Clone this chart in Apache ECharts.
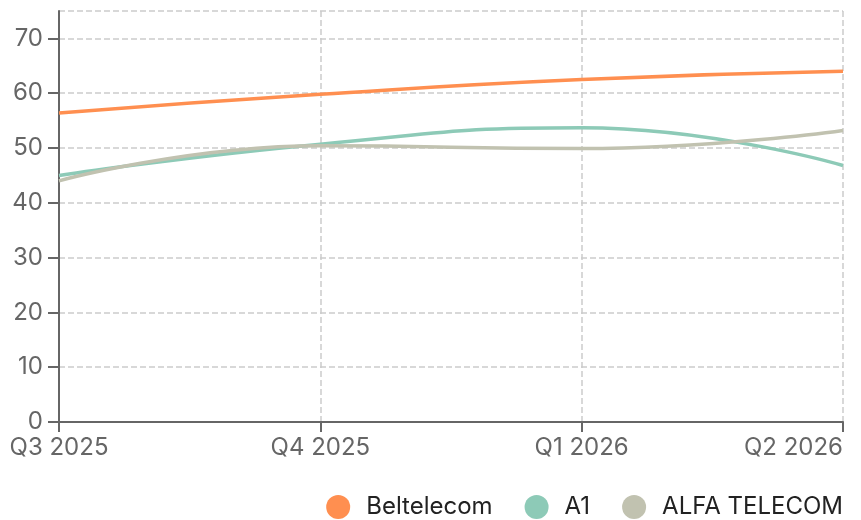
<!DOCTYPE html>
<html><head><meta charset="utf-8">
<script src="https://cdn.jsdelivr.net/npm/echarts@6/dist/echarts.min.js"></script>
<style>html,body{margin:0;padding:0;background:#fff}#c{width:861px;height:520px}</style>
</head><body><div id="c"></div>
<script>
const categories = ['Q3 2025', 'Q4 2025', 'Q1 2026', 'Q2 2026'];
const beltelecom = [56.4, 59.8, 62.5, 64.0];
const a1 = [45.0, 50.7, 53.7, 46.8];
const alfa = [44.0, 50.4, 49.9, 53.2];
const seriesNames = ['Beltelecom', 'A1', 'ALFA TELECOM'];
const colors = ['#FF8F50', '#8DCAB7', '#C1C2B0'];
const font = 'Inter, sans-serif';

const chart = echarts.init(document.getElementById('c'));
const mk = (name, data, i) => ({
  name, type: 'line', data, smooth: true, showSymbol: false, symbol: 'circle',
  lineStyle: { width: 3.5, color: colors[i] }, itemStyle: { color: colors[i] }
});
chart.setOption({
  animation: false,
  textStyle: { fontFamily: font },
  grid: { left: 59, right: 18, top: 11, bottom: 98, containLabel: false },
  legend: {
    right: 13, top: 490, padding: 5, icon: 'circle', itemWidth: 46, itemHeight: 24, itemGap: 32,
    textStyle: { fontFamily: font, fontSize: 24, color: '#222' },
    data: seriesNames
  },
  xAxis: {
    type: 'category', data: categories, boundaryGap: false,
    axisLine: { lineStyle: { color: '#666', width: 2 } },
    axisTick: { show: true, length: 10, lineStyle: { color: '#666', width: 2 } },
    axisLabel: { color: '#666', fontSize: 24, fontFamily: font, margin: 14, alignMaxLabel: 'right' },
    splitLine: { show: true, lineStyle: { color: '#ccc', type: 'dashed', width: 1.5 } }
  },
  yAxis: {
    type: 'value', min: 0, max: 75, interval: 10,
    axisLine: { show: true, lineStyle: { color: '#666', width: 2 } },
    axisTick: { show: true, length: 11, lineStyle: { color: '#666', width: 2 } },
    axisLabel: { color: '#666', fontSize: 24, fontFamily: font, margin: 16, showMaxLabel: false },
    splitLine: { show: true, lineStyle: { color: '#ccc', type: 'dashed', width: 1.5 } }
  },
  series: [mk(seriesNames[0], beltelecom, 0), mk(seriesNames[1], a1, 1), mk(seriesNames[2], alfa, 2)]
});
</script></body></html>
